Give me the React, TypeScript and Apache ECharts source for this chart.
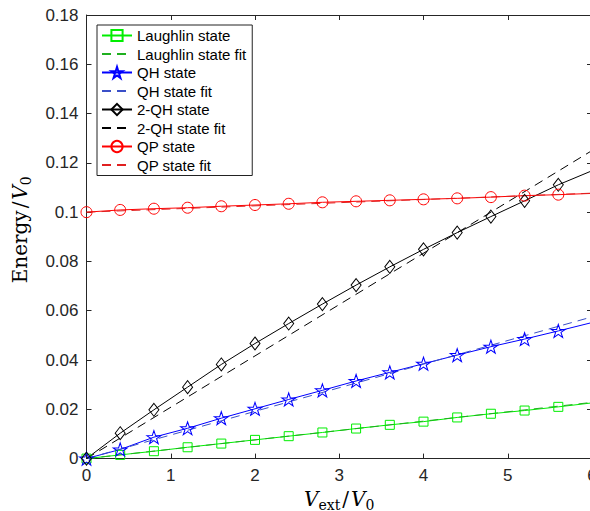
import React, { useEffect, useRef } from "react";
import * as echarts from "echarts";

const xValues = [0, 0.4, 0.8, 1.2, 1.6, 2.0, 2.4, 2.8, 3.2, 3.6, 4.0, 4.4, 4.8, 5.2, 5.6, 6.0];
const laughlin = [0, 0.0015, 0.003, 0.0046, 0.0061, 0.0076, 0.0091, 0.0106, 0.0122, 0.0137, 0.015, 0.0167, 0.0182, 0.0195, 0.021, 0.0226];
const qh = [0, 0.0037, 0.0087, 0.0123, 0.0164, 0.0202, 0.024, 0.0277, 0.0315, 0.035, 0.0385, 0.042, 0.0454, 0.0485, 0.0518, 0.0552];
const twoQh = [0, 0.0103, 0.0198, 0.029, 0.0382, 0.0467, 0.0548, 0.0627, 0.0704, 0.0778, 0.0849, 0.0917, 0.0982, 0.1046, 0.1111, 0.1168];
const qp = [0.1, 0.1009, 0.1014, 0.1018, 0.1024, 0.1029, 0.1034, 0.104, 0.1044, 0.1048, 0.1052, 0.1056, 0.1061, 0.1067, 0.1071, 0.1076];

const fitX = [0, 6];
const laughlinFit = [0, 0.0228];
const qhFit = [0, 0.0575];
const twoQhFit = [0, 0.125];
const qpFit = [0.1, 0.1077];

const seriesNames = [
  "Laughlin state",
  "Laughlin state fit",
  "QH state",
  "QH state fit",
  "2-QH state",
  "2-QH state fit",
  "QP state",
  "QP state fit",
];

const STAR =
  "path://M0,-1 L0.2245,-0.309 L0.951,-0.309 L0.363,0.118 L0.588,0.809 L0,0.382 L-0.588,0.809 L-0.363,0.118 L-0.951,-0.309 L-0.2245,-0.309 Z";

const AXIS_COLOR = "#262626";
const SANS = "'Liberation Sans', Arial, Helvetica, sans-serif";
const SERIF = "'DejaVu Serif', serif";

function dataSeries(name: string, ys: number[], color: string, symbol: string, size: number | number[]) {
  return {
    name,
    type: "line",
    color,
    data: xValues.map((x, i) =>
      i === xValues.length - 1 ? { value: [x, ys[i]], symbol: "none" } : [x, ys[i]]
    ),
    symbol,
    symbolSize: size,
    showAllSymbol: true,
    lineStyle: { color, width: 1 },
    itemStyle: { color: "rgba(0,0,0,0)", borderColor: color, borderWidth: 1 },
    z: 3,
  };
}

function fitSeries(name: string, ys: number[], color: string) {
  return {
    name,
    type: "line",
    color,
    data: fitX.map((x, i) => [x, ys[i]]),
    symbol: "circle",
    symbolSize: 0,
    showSymbol: false,
    lineStyle: { color, width: 1, type: [9, 6] },
    itemStyle: { color: "rgba(0,0,0,0)", borderColor: "rgba(0,0,0,0)", borderWidth: 0 },
    z: 3,
  };
}

const mathRich = {
  n: { fontFamily: SERIF, fontSize: 20, lineHeight: 26, color: "#000" },
  sl: { fontFamily: SERIF, fontSize: 20, lineHeight: 26, color: "#000", padding: [0, 2, 0, 2] },
  i: { fontFamily: SERIF, fontSize: 20, lineHeight: 26, fontStyle: "italic", color: "#000" },
  s: { fontFamily: SERIF, fontSize: 14, lineHeight: 16, verticalAlign: "bottom", color: "#000" },
};

export default function App() {
  const ref = useRef<HTMLDivElement>(null);
  useEffect(() => {
    if (!ref.current) return;
    const chart = echarts.init(ref.current, undefined, { renderer: "svg" });
    const axisCommon = {
      type: "value",
      axisLine: { show: true, onZero: false, lineStyle: { color: AXIS_COLOR, width: 1 } },
      axisTick: { show: true, inside: true, length: 5, lineStyle: { color: AXIS_COLOR } },
      splitLine: { show: false },
    };
    chart.setOption({
      animation: false,
      backgroundColor: "#fff",
      grid: {
        left: 86.5,
        top: 15,
        width: 505.5,
        height: 443.6,
        containLabel: false,
        outerBoundsMode: "none",
      },
      legend: {
        orient: "vertical",
        left: 97,
        top: 25,
        data: seriesNames,
        itemWidth: 30,
        itemHeight: 14,
        itemGap: 3.5,
        padding: [3, 6, 3, 4],
        borderColor: "#222",
        borderWidth: 1,
        backgroundColor: "#fff",
        textStyle: { fontFamily: SANS, fontSize: 15, color: "#000" },
      },
      xAxis: [
        {
          ...axisCommon,
          position: "bottom",
          min: 0,
          max: 6,
          interval: 1,
          axisLabel: { fontFamily: SANS, fontSize: 17, color: AXIS_COLOR, margin: 8 },
          name: "{i|V}{s|ext}{sl|/}{i|V}{s|0}",
          nameLocation: "middle",
          nameGap: 26,
          nameTextStyle: { rich: mathRich },
        },
        {
          ...axisCommon,
          position: "top",
          min: 0,
          max: 6,
          interval: 1,
          axisLabel: { show: false },
        },
      ],
      yAxis: [
        {
          ...axisCommon,
          position: "left",
          min: 0,
          max: 0.18,
          interval: 0.02,
          axisLabel: {
            fontFamily: SANS,
            fontSize: 17,
            color: AXIS_COLOR,
            margin: 8,
            formatter: (v: number) => String(+v.toFixed(2)),
          },
          name: "{n|Energy}{sl|/}{i|V}{s|0}",
          nameLocation: "middle",
          nameRotate: 90,
          nameGap: 54,
          nameTextStyle: { rich: mathRich, padding: [0, 0, 0, 14] },
        },
        {
          ...axisCommon,
          position: "right",
          min: 0,
          max: 0.18,
          interval: 0.02,
          axisLabel: { show: false },
        },
      ],
      series: [
        dataSeries(seriesNames[0], laughlin, "#00ee00", "rect", 9),
        fitSeries(seriesNames[1], laughlinFit, "#1fb01f"),
        dataSeries(seriesNames[2], qh, "#0000ff", STAR, [14, 13]),
        fitSeries(seriesNames[3], qhFit, "#3a4fc8"),
        dataSeries(seriesNames[4], twoQh, "#000000", "diamond", [10, 13]),
        fitSeries(seriesNames[5], twoQhFit, "#000000"),
        dataSeries(seriesNames[6], qp, "#ff0000", "circle", 11),
        fitSeries(seriesNames[7], qpFit, "#e02020"),
      ],
    });
    return () => chart.dispose();
  }, []);
  return (
    <div style={{ position: "fixed", left: 0, top: 0, width: 590, height: 511, overflow: "hidden", background: "#fff" }}>
      <div ref={ref} style={{ width: 600, height: 511 }} />
    </div>
  );
}
